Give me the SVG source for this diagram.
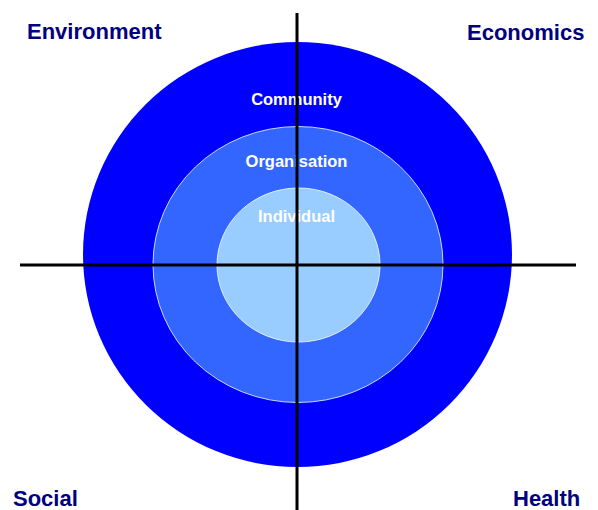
<svg xmlns="http://www.w3.org/2000/svg" width="598" height="510" viewBox="0 0 598 510">
<style>
.corner{font-family:"Liberation Sans",Arial,sans-serif;font-weight:bold;font-size:22px;fill:#000080}
.ring{font-family:"Liberation Sans",Arial,sans-serif;font-weight:bold;font-size:16.5px;fill:#ffffff;text-anchor:middle}
.axis{stroke:#000;stroke-width:3;fill:none}
</style>
<rect width="598" height="510" fill="#fff"/>
<g id="community">
<ellipse cx="297.5" cy="254.5" rx="214.5" ry="212.5" fill="#0000ff"/>
<text class="ring" x="296.5" y="105">Community</text>
</g>
<g id="organisation">
<ellipse cx="298" cy="264.5" rx="145" ry="138" fill="#3366ff" stroke="#c8d8ff" stroke-width="1"/>
<text class="ring" x="296.5" y="167">Organisation</text>
</g>
<g id="individual">
<ellipse cx="298.5" cy="265" rx="81.5" ry="77" fill="#99ccff" stroke="#e0eeff" stroke-width="1"/>
<text class="ring" x="296.5" y="222">Individual</text>
</g>
<g id="connectors">
<line class="axis" x1="297" y1="13" x2="297" y2="510"/>
<line class="axis" x1="20" y1="265" x2="576" y2="265"/>
</g>
<g id="environment"><text class="corner" x="27" y="39">Environment</text></g>
<g id="economics"><text class="corner" x="467" y="40">Economics</text></g>
<g id="social"><text class="corner" x="13" y="506">Social</text></g>
<g id="health"><text class="corner" x="513" y="506">Health</text></g>
</svg>
